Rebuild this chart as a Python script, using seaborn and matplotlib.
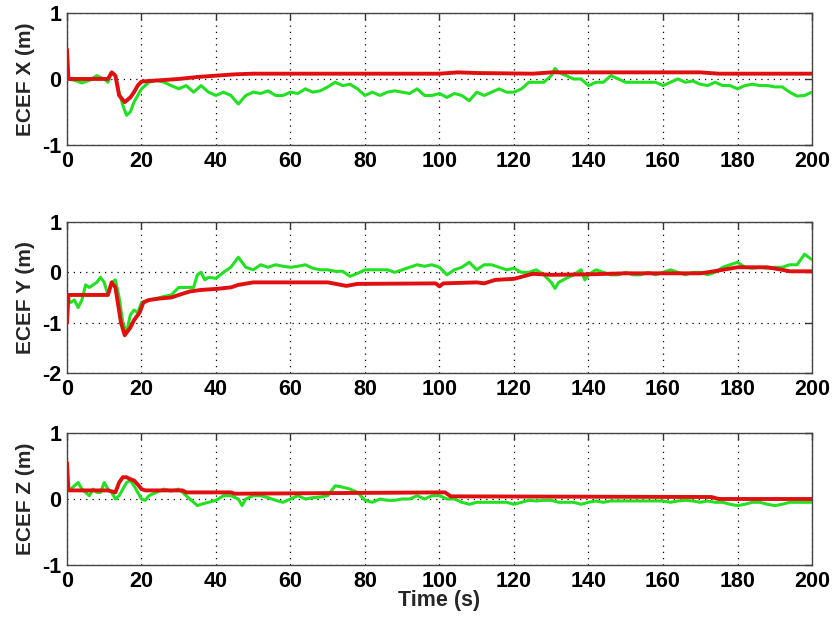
import numpy as np
import pandas as pd
import matplotlib
matplotlib.use("Agg")
import matplotlib.pyplot as plt
import seaborn as sns

# ---------------- data ----------------
# ECEF X
x_green_t = [0, 2, 4, 6, 8, 10, 11, 12, 13, 14, 15, 16, 17, 18, 19, 20, 22, 24, 26, 28, 30, 32, 34, 36, 38,
             40, 42, 44, 46, 48, 50, 52, 54, 56, 58, 60, 62, 64, 66, 68, 70, 72, 74, 76, 78, 80, 82, 84, 86,
             88, 90, 92, 94, 96, 98, 100, 102, 104, 106, 108, 110, 112, 114, 116, 118, 120, 122, 124, 126,
             128, 130, 131, 132, 134, 136, 138, 140, 142, 144, 146, 148, 150, 152, 154, 156, 158, 160, 162,
             164, 166, 168, 170, 172, 174, 176, 178, 180, 182, 184, 186, 188, 190, 192, 194, 196, 198, 200]
x_green_v = [0.0, -0.02, -0.06, -0.02, 0.05, 0.0, -0.05, 0.1, 0.05, -0.2, -0.4, -0.55, -0.5, -0.35, -0.25,
             -0.15, -0.05, -0.02, -0.05, -0.1, -0.15, -0.1, -0.2, -0.1, -0.2, -0.25, -0.2, -0.25, -0.38,
             -0.25, -0.2, -0.22, -0.18, -0.25, -0.25, -0.2, -0.22, -0.15, -0.2, -0.18, -0.12, -0.05, -0.1,
             -0.08, -0.15, -0.25, -0.2, -0.25, -0.2, -0.18, -0.2, -0.22, -0.15, -0.25, -0.25, -0.22, -0.28,
             -0.22, -0.25, -0.33, -0.2, -0.25, -0.2, -0.15, -0.2, -0.2, -0.15, -0.05, -0.05, -0.05, 0.05,
             0.16, 0.1, 0.05, 0.0, 0.0, -0.1, -0.05, -0.05, 0.05, 0.0, -0.05, -0.05, -0.05, -0.05, -0.05,
             -0.1, -0.05, 0.0, -0.05, -0.03, -0.08, -0.1, -0.05, -0.1, -0.1, -0.15, -0.1, -0.08, -0.1, -0.1,
             -0.12, -0.12, -0.2, -0.26, -0.25, -0.2]
x_red_t = [0, 0.4, 11, 12, 13, 14, 15.5, 17, 18, 19, 20, 22, 25, 30, 35, 40, 45, 50, 100, 105, 110, 125,
           130, 170, 175, 200]
x_red_v = [0.45, 0.0, 0.0, 0.1, 0.05, -0.25, -0.35, -0.28, -0.2, -0.1, -0.04, -0.03, -0.02, 0.0, 0.03, 0.05,
           0.07, 0.08, 0.08, 0.1, 0.09, 0.08, 0.1, 0.1, 0.08, 0.08]

# ECEF Y
y_green_t = [0, 1, 2, 3, 4, 5, 6, 7, 8, 9, 10, 11, 12, 13, 14, 15, 16, 17, 18, 19, 20, 22, 24, 26, 28, 30,
             32, 34, 35, 36, 37, 38, 40, 42, 44, 46, 47, 48, 50, 52, 54, 56, 58, 60, 62, 64, 66, 68, 70,
             72, 74, 76, 78, 80, 82, 84, 86, 88, 90, 92, 94, 96, 98, 100, 102, 104, 106, 108, 110, 112,
             114, 116, 118, 120, 122, 124, 126, 128, 130, 131, 132, 134, 136, 138, 139, 140, 142, 144, 146,
             148, 150, 152, 154, 156, 158, 160, 162, 164, 166, 168, 170, 172, 174, 176, 178, 180, 182, 184,
             186, 188, 190, 192, 194, 196, 198, 200]
y_green_v = [-0.5, -0.6, -0.55, -0.7, -0.55, -0.25, -0.3, -0.25, -0.2, -0.1, -0.2, -0.45, -0.2, -0.15,
             -0.5, -1.0, -1.2, -0.85, -0.75, -0.8, -0.6, -0.55, -0.52, -0.48, -0.45, -0.3, -0.3, -0.3,
             -0.05, 0.0, -0.15, -0.1, -0.12, 0.0, 0.1, 0.3, 0.2, 0.1, 0.05, 0.15, 0.1, 0.15, 0.12, 0.1, 0.12,
             0.15, 0.08, 0.05, 0.05, 0.02, 0.02, -0.08, -0.02, 0.05, 0.05, 0.05, 0.05, 0.0, 0.05, 0.1, 0.15,
             0.12, 0.15, 0.1, -0.05, 0.05, 0.1, 0.2, 0.05, 0.15, 0.15, 0.1, 0.05, 0.08, 0.0, 0.0, 0.05,
             -0.05, -0.2, -0.32, -0.2, -0.12, -0.05, 0.05, -0.15, -0.05, 0.05, 0.0, -0.05, -0.05, 0.0,
             -0.05, -0.05, 0.0, -0.05, 0.0, 0.05, 0.0, -0.05, 0.0, 0.0, -0.05, 0.0, 0.1, 0.15, 0.2, 0.1,
             0.08, 0.1, 0.08, 0.1, 0.1, 0.15, 0.15, 0.36, 0.25]
y_red_t = [0, 0.4, 11, 12, 13, 14.5, 15.5, 17, 18, 19.5, 20.5, 22, 25, 28, 30, 33, 36, 40, 44, 46, 50, 70,
           75, 78, 99, 100, 101, 110, 112, 115, 120, 125, 130, 140, 150, 170, 172, 176, 180, 188, 192, 194, 200]
y_red_v = [-1.0, -0.45, -0.45, -0.2, -0.3, -1.0, -1.25, -1.1, -0.95, -0.8, -0.6, -0.55, -0.52, -0.5, -0.45,
           -0.38, -0.35, -0.33, -0.3, -0.25, -0.2, -0.2, -0.27, -0.23, -0.22, -0.28, -0.22, -0.2, -0.22,
           -0.15, -0.13, -0.03, -0.05, -0.04, -0.02, -0.02, 0.0, 0.05, 0.1, 0.1, 0.05, 0.02, 0.02]

# ECEF Z
z_green_t = [0, 1, 2, 3, 4, 5, 6, 7, 8, 9, 10, 11, 12, 13, 14, 15, 16, 17, 18, 19, 20, 21, 22, 24, 26, 28,
             30, 32, 34, 35, 36, 38, 40, 42, 44, 46, 47, 48, 50, 52, 54, 56, 58, 60, 62, 64, 66, 68, 70,
             72, 74, 76, 78, 80, 82, 84, 86, 88, 90, 92, 94, 96, 98, 100, 102, 104, 106, 108, 110, 112,
             114, 116, 118, 120, 122, 124, 126, 128, 130, 132, 134, 136, 138, 140, 142, 144, 146, 148,
             150, 152, 154, 156, 158, 160, 162, 164, 166, 168, 170, 172, 174, 176, 178, 180, 182, 184,
             186, 188, 190, 192, 194, 196, 198, 200]
z_green_v = [0.15, 0.15, 0.2, 0.25, 0.15, 0.1, 0.05, 0.15, 0.1, 0.1, 0.25, 0.15, 0.1, 0.0, 0.05, 0.15, 0.25,
             0.28, 0.2, 0.1, 0.0, -0.02, 0.05, 0.1, 0.15, 0.12, 0.15, 0.05, -0.05, -0.1, -0.08, -0.05,
             -0.02, 0.05, 0.05, 0.0, -0.1, 0.0, 0.05, 0.05, 0.02, -0.02, -0.05, 0.0, 0.05, 0.0, 0.02, 0.03,
             0.05, 0.2, 0.18, 0.15, 0.1, -0.02, -0.05, 0.0, -0.02, -0.02, 0.0, 0.0, 0.05, 0.0, 0.05, 0.05,
             0.0, 0.0, -0.05, -0.08, -0.05, -0.05, -0.05, -0.05, -0.05, -0.08, -0.05, -0.02, -0.03, -0.02,
             -0.02, -0.05, -0.05, -0.05, -0.08, -0.05, -0.03, -0.05, -0.03, -0.03, -0.03, -0.03, -0.03,
             -0.03, -0.03, -0.03, -0.05, -0.03, -0.02, -0.03, -0.05, -0.03, -0.05, -0.05, -0.08, -0.1,
             -0.08, -0.05, -0.05, -0.08, -0.1, -0.08, -0.05, -0.05, -0.05, -0.05]
z_red_t = [0, 0.4, 11, 13, 14, 15, 16, 17, 18, 19, 20, 21, 31, 32, 44, 45, 100, 101.5, 103, 173, 175, 200]
z_red_v = [0.55, 0.13, 0.13, 0.1, 0.25, 0.33, 0.33, 0.3, 0.28, 0.22, 0.15, 0.13, 0.13, 0.1, 0.1, 0.08, 0.1,
           0.1, 0.04, 0.03, 0.0, 0.0]

labels = ["ECEF X (m)", "ECEF Y (m)", "ECEF Z (m)"]
x_ticks = [0, 20, 40, 60, 80, 100, 120, 140, 160, 180, 200]
ylims = [(-1, 1), (-2, 1), (-1, 1)]
y_ticks = [[-1, 0, 1], [-2, -1, 0, 1], [-1, 0, 1]]

# ---------------- plot ----------------
sns.set_style("white")
plt.rcParams["font.family"] = ["Liberation Sans", "DejaVu Sans"]
plt.rcParams["font.weight"] = "bold"

GREEN = "#22e022"
RED = "#e01010"

fig = plt.figure(figsize=(8.33, 6.23), dpi=100)
positions = [
    [0.0804, 0.7673, 0.8944, 0.2119],
    [0.0804, 0.4013, 0.8944, 0.2424],
    [0.0804, 0.0931, 0.8944, 0.2119],
]
series = [
    (x_green_t, x_green_v, x_red_t, x_red_v),
    (y_green_t, y_green_v, y_red_t, y_red_v),
    (z_green_t, z_green_v, z_red_t, z_red_v),
]

for i, pos in enumerate(positions):
    ax = fig.add_axes(pos)
    gt, gv, rt, rv = series[i]
    dg = pd.DataFrame({"t": gt, "v": gv})
    dr = pd.DataFrame({"t": rt, "v": rv})
    sns.lineplot(data=dg, x="t", y="v", ax=ax, color=GREEN, linewidth=2.2, estimator=None, zorder=3)
    sns.lineplot(data=dr, x="t", y="v", ax=ax, color=RED, linewidth=2.8, estimator=None, zorder=4)
    ax.set_xlim(0, 200)
    ax.set_ylim(*ylims[i])
    ax.set_xticks(x_ticks)
    ax.set_yticks(y_ticks[i])
    ax.set_xticklabels([str(t) for t in x_ticks])
    ax.set_yticklabels([str(t) for t in y_ticks[i]])
    ax.grid(True, color="black", linestyle=(0, (1, 4)), linewidth=0.9)
    ax.set_axisbelow(True)
    ax.tick_params(direction="in", length=5, width=1, colors="#333333", top=True, right=True,
                   labelsize=15.5)
    ax.tick_params(axis="x", pad=4)
    ax.tick_params(axis="y", pad=4)
    for lbl in ax.get_xticklabels() + ax.get_yticklabels():
        lbl.set_color("black")
        lbl.set_fontweight("bold")
    for sp in ax.spines.values():
        sp.set_color("#444444")
        sp.set_linewidth(1.0)
    ax.set_ylabel(labels[i], fontsize=15, fontweight="bold", labelpad=5)
    if i == 2:
        ax.set_xlabel("Time (s)", fontsize=15.5, fontweight="bold", labelpad=-1)
    else:
        ax.set_xlabel("")

fig.savefig("out.png", dpi=100)
